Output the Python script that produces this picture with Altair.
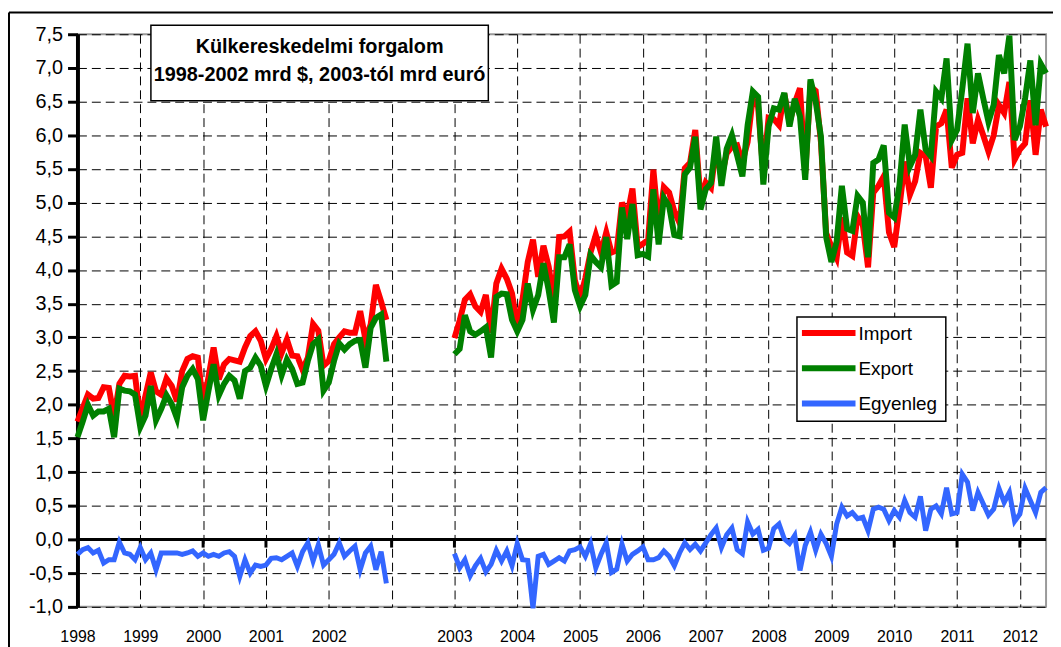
import altair as alt
import pandas as pd

# ---------------- data ----------------
years_a = [1998, 1999, 2000, 2001, 2002]          # first period, billion $
years_b = list(range(2003, 2013))                 # second period, billion euro (to June 2012)

import_a = [1.75, 1.95, 2.15, 2.09, 2.10, 2.26, 2.25, 1.82, 2.31, 2.43, 2.42, 2.43,
            1.80, 2.14, 2.48, 2.20, 2.15, 2.39, 2.28, 2.05, 2.50, 2.68, 2.72, 2.70,
            2.00, 2.40, 2.85, 2.38, 2.60, 2.68, 2.66, 2.64, 2.85, 3.02, 3.09, 2.95,
            2.68, 2.83, 3.02, 2.77, 2.97, 2.73, 2.72, 2.52, 2.70, 3.20, 3.10, 2.58,
            2.65, 2.90, 3.00, 3.09, 3.07, 3.07, 3.39, 2.97, 3.19, 3.78, 3.53, 3.26]
export_a = [1.52, 1.75, 2.00, 1.84, 1.90, 1.90, 1.94, 1.52, 2.24, 2.21, 2.20, 2.15,
            1.67, 1.84, 2.28, 1.77, 1.94, 2.14, 2.01, 1.80, 2.26, 2.43, 2.53, 2.38,
            1.77, 2.20, 2.60, 2.14, 2.31, 2.43, 2.36, 2.09, 2.50, 2.55, 2.70, 2.58,
            2.28, 2.53, 2.75, 2.44, 2.67, 2.53, 2.31, 2.33, 2.65, 2.90, 2.97, 2.21,
            2.33, 2.65, 2.91, 2.82, 2.90, 2.95, 2.96, 2.55, 3.14, 3.29, 3.34, 2.64]
balance_a = [-0.22, -0.15, -0.12, -0.20, -0.16, -0.35, -0.30, -0.30, -0.04, -0.20, -0.22, -0.30,
             -0.12, -0.30, -0.20, -0.45, -0.20, -0.20, -0.20, -0.20, -0.22, -0.20, -0.17, -0.25,
             -0.20, -0.25, -0.22, -0.25, -0.20, -0.18, -0.25, -0.55, -0.30, -0.50, -0.38, -0.40,
             -0.38, -0.28, -0.27, -0.30, -0.25, -0.20, -0.40, -0.18, -0.05, -0.32, -0.08, -0.38,
             -0.30, -0.22, -0.05, -0.25, -0.17, -0.10, -0.45, -0.20, -0.10, -0.45, -0.18, -0.65]

import_b = [2.99, 3.25, 3.56, 3.64, 3.46, 3.38, 3.63, 3.07, 3.80, 4.02, 3.87, 3.65,
            3.17, 3.56, 4.12, 4.45, 3.90, 4.36, 4.05, 3.54, 4.49, 4.50, 4.57, 3.85,
            3.57, 3.88, 4.26, 4.52, 4.26, 4.56, 4.26, 4.29, 5.00, 4.80, 5.21, 4.34,
            4.39, 4.45, 5.49, 4.65, 5.23, 5.15, 4.87, 4.70, 5.51, 5.59, 6.08, 5.05,
            5.30, 5.22, 5.82, 5.37, 5.73, 5.83, 5.85, 5.60, 5.90, 6.57, 6.42, 5.43,
            6.26, 6.24, 6.15, 6.62, 6.19, 6.48, 6.70, 5.43, 6.72, 6.66, 5.90, 4.55,
            4.35, 4.18, 4.78, 4.26, 4.21, 4.80, 4.67, 4.04, 5.15, 5.25, 5.39, 4.56,
            4.34, 4.93, 5.61, 5.12, 5.32, 5.74, 5.69, 5.22, 6.13, 6.18, 6.38, 5.52,
            5.71, 5.74, 6.55, 5.88, 6.23, 6.00, 5.76, 6.00, 6.45, 6.33, 6.79, 5.64,
            5.79, 5.88, 6.52, 5.71, 6.38, 6.13]
export_b = [2.75, 2.83, 3.33, 3.09, 3.04, 3.09, 3.15, 2.70, 3.60, 3.65, 3.64, 3.26,
            3.09, 3.26, 3.80, 3.41, 3.63, 4.10, 3.70, 3.22, 4.19, 4.19, 4.38, 3.70,
            3.46, 3.63, 4.22, 4.12, 4.04, 4.49, 3.77, 3.82, 4.93, 4.46, 4.98, 4.22,
            4.24, 4.20, 5.20, 4.38, 5.07, 4.95, 4.52, 4.50, 5.42, 5.52, 5.98, 4.90,
            5.20, 5.29, 5.98, 5.25, 5.80, 6.00, 5.70, 5.39, 6.15, 6.65, 6.57, 5.27,
            6.13, 6.40, 6.38, 6.63, 6.13, 6.54, 6.28, 5.34, 6.83, 6.50, 5.98, 4.49,
            4.12, 4.42, 5.25, 4.61, 4.58, 5.10, 5.00, 4.19, 5.59, 5.64, 5.85, 4.85,
            4.78, 5.26, 6.16, 5.54, 5.71, 6.38, 5.79, 5.69, 6.65, 6.55, 7.14, 5.93,
            6.08, 6.69, 7.36, 6.33, 6.92, 6.55, 6.20, 6.45, 7.19, 6.92, 7.48, 5.93,
            6.13, 6.55, 7.11, 6.15, 7.06, 6.92]
balance_b = [-0.21, -0.42, -0.30, -0.54, -0.39, -0.28, -0.48, -0.37, -0.16, -0.32, -0.17, -0.39,
             -0.06, -0.30, -0.31, -1.02, -0.25, -0.22, -0.37, -0.32, -0.27, -0.32, -0.17, -0.15,
             -0.11, -0.25, -0.06, -0.42, -0.22, -0.05, -0.49, -0.44, -0.07, -0.32, -0.22, -0.17,
             -0.11, -0.30, -0.30, -0.27, -0.17, -0.25, -0.39, -0.20, -0.05, -0.15, -0.07, -0.17,
             -0.05, 0.07, 0.17, -0.12, 0.07, 0.17, -0.15, -0.21, 0.26, 0.08, 0.15, -0.16,
             -0.13, 0.16, 0.23, 0.01, -0.06, 0.06, -0.46, -0.09, 0.11, -0.16, 0.08, -0.06,
             -0.25, 0.23, 0.48, 0.35, 0.40, 0.31, 0.33, 0.13, 0.45, 0.48, 0.45, 0.28,
             0.43, 0.33, 0.58, 0.40, 0.33, 0.64, 0.13, 0.45, 0.50, 0.38, 0.77, 0.38,
             0.40, 0.97, 0.85, 0.43, 0.70, 0.53, 0.36, 0.45, 0.76, 0.55, 0.70, 0.27,
             0.38, 0.76, 0.58, 0.40, 0.70, 0.77]

series_names = ["Import", "Export", "Egyenleg"]
series_colors = ["#ff0000", "#008000", "#3366ff"]
title_lines = ["Külkereskedelmi forgalom", "1998-2002 mrd $, 2003-tól mrd euró"]
y_tick_values = [-1.0, -0.5, 0.0, 0.5, 1.0, 1.5, 2.0, 2.5, 3.0, 3.5, 4.0, 4.5, 5.0, 5.5, 6.0, 6.5, 7.0, 7.5]

# ---------------- table ----------------
# month slots: 1998-2002 first, then one empty year, then 2003 onwards
start_a = 0
start_b = (years_a[-1] - years_a[0] + 2) * 12   # 72
rows = []
for name, va, vb in zip(series_names, [import_a, export_a, balance_a], [import_b, export_b, balance_b]):
    for k, v in enumerate(va):
        rows.append({"t": start_a + k, "period": "a", "series": name, "value": v})
    for k, v in enumerate(vb):
        rows.append({"t": start_b + k, "period": "b", "series": name, "value": v})
df = pd.DataFrame(rows)
t_max = start_b + len(import_b) - 1

tick_slots = [12 * k for k in range(len(years_a) + 1 + len(years_b))]
ticks_df = pd.DataFrame({"t": tick_slots, "value": [0.0] * len(tick_slots),
                         "value2": [-0.12] * len(tick_slots)})
zero_df = pd.DataFrame({"t": [0], "t2": [t_max], "value": [0.0]})

FONT = "Liberation Sans"
x_scale = alt.Scale(domain=[0, t_max], nice=False, zero=False)
y_scale = alt.Scale(domain=[-1.0, 7.5], nice=False, zero=False)

x_axis = alt.Axis(
    values=tick_slots,
    labelExpr="datum.value < 60 ? toString(1998 + datum.value / 12) : (datum.value >= 72 ? toString(1997 + datum.value / 12) : '')",
    grid=True, gridColor="#000000", gridDash=[9, 5], gridWidth=1, gridOpacity=1,
    domain=False, ticks=False, labelPadding=22, labelFontSize=16, labelFont=FONT,
    labelColor="#000000", title=None, labelFlush=False, labelOverlap=False,
)
y_axis = alt.Axis(
    values=y_tick_values,
    labelExpr="replace(replace(format(datum.value, '.1f'), '.', ','), '\u2212', '-')",
    grid=True, gridColor="#000000", gridDash=[9, 5], gridWidth=1, gridOpacity=1,
    domain=True, domainColor="#000000", domainWidth=4,
    ticks=True, tickColor="#000000", tickWidth=3, tickSize=10,
    labelPadding=5, labelFontSize=20, labelFont=FONT, labelColor="#000000",
    title=None, labelFlush=False, labelOverlap=False,
)

X = alt.X("t:Q", scale=x_scale, axis=x_axis)
Y = alt.Y("value:Q", scale=y_scale, axis=y_axis)

one = pd.DataFrame({"a": [0]})

# outer chart frame (top and left visible)
frame_top = alt.Chart(one).mark_rule(color="#000000", strokeWidth=2).encode(
    x=alt.value(-69), x2=alt.value(1000), y=alt.value(-22))
frame_left = alt.Chart(one).mark_rule(color="#000000", strokeWidth=2).encode(
    x=alt.value(-69), y=alt.value(-22), y2=alt.value(640))

# zero line acting as category axis, with year ticks
zero_line = alt.Chart(zero_df).mark_rule(color="#000000", strokeWidth=3).encode(
    x=X, x2="t2:Q", y=Y)
year_ticks = alt.Chart(ticks_df).mark_rule(color="#000000", strokeWidth=3).encode(
    x=X, y=Y, y2="value2:Q")

line_layers = []
widths = [6, 6, 5]
for name, col, w in zip(series_names, series_colors, widths):
    line_layers.append(
        alt.Chart(df).transform_filter(alt.datum.series == name).mark_line(
            color=col, strokeWidth=w, strokeJoin="miter", strokeMiterLimit=4
        ).encode(x=X, y=Y, detail="period:N")
    )

# title box
title_box = alt.Chart(one).mark_rect(fill="#ffffff", stroke="#000000", strokeWidth=1.5).encode(
    x=alt.value(74), x2=alt.value(414), y=alt.value(-9), y2=alt.value(67))
title_texts = [
    alt.Chart(one).mark_text(font=FONT, fontSize=20, fontWeight="bold", color="#000000",
                             align="center", baseline="middle").encode(
        x=alt.value(244), y=alt.value(yy), text=alt.value(txt))
    for txt, yy in zip(title_lines, [13, 41])
]

# legend box
legend_box = alt.Chart(one).mark_rect(fill="#ffffff", stroke="#000000", strokeWidth=1.5).encode(
    x=alt.value(725), x2=alt.value(875), y=alt.value(285), y2=alt.value(390))
legend_items = []
for k, (name, col, w) in enumerate(zip(series_names, series_colors, widths)):
    yy = 301 + k * 35.5
    legend_items.append(alt.Chart(one).mark_rule(color=col, strokeWidth=6).encode(
        x=alt.value(730), x2=alt.value(784), y=alt.value(yy)))
    legend_items.append(alt.Chart(one).mark_text(font=FONT, fontSize=19, color="#000000",
                                                 align="left", baseline="middle").encode(
        x=alt.value(787), y=alt.value(yy + 1), text=alt.value(name)))

chart = alt.layer(
    year_ticks, zero_line, *line_layers, title_box, *title_texts, legend_box, *legend_items,
    frame_top, frame_left,
).properties(
    width=976, height=577,
    padding={"left": 70, "top": 24, "right": 7, "bottom": 38},
    autosize=alt.AutoSizeParams(type="none"),
    background="#ffffff",
).configure_view(stroke="#9a9a9a", strokeWidth=2)

chart.save("out.html", embed_options={"renderer": "svg", "actions": False})
